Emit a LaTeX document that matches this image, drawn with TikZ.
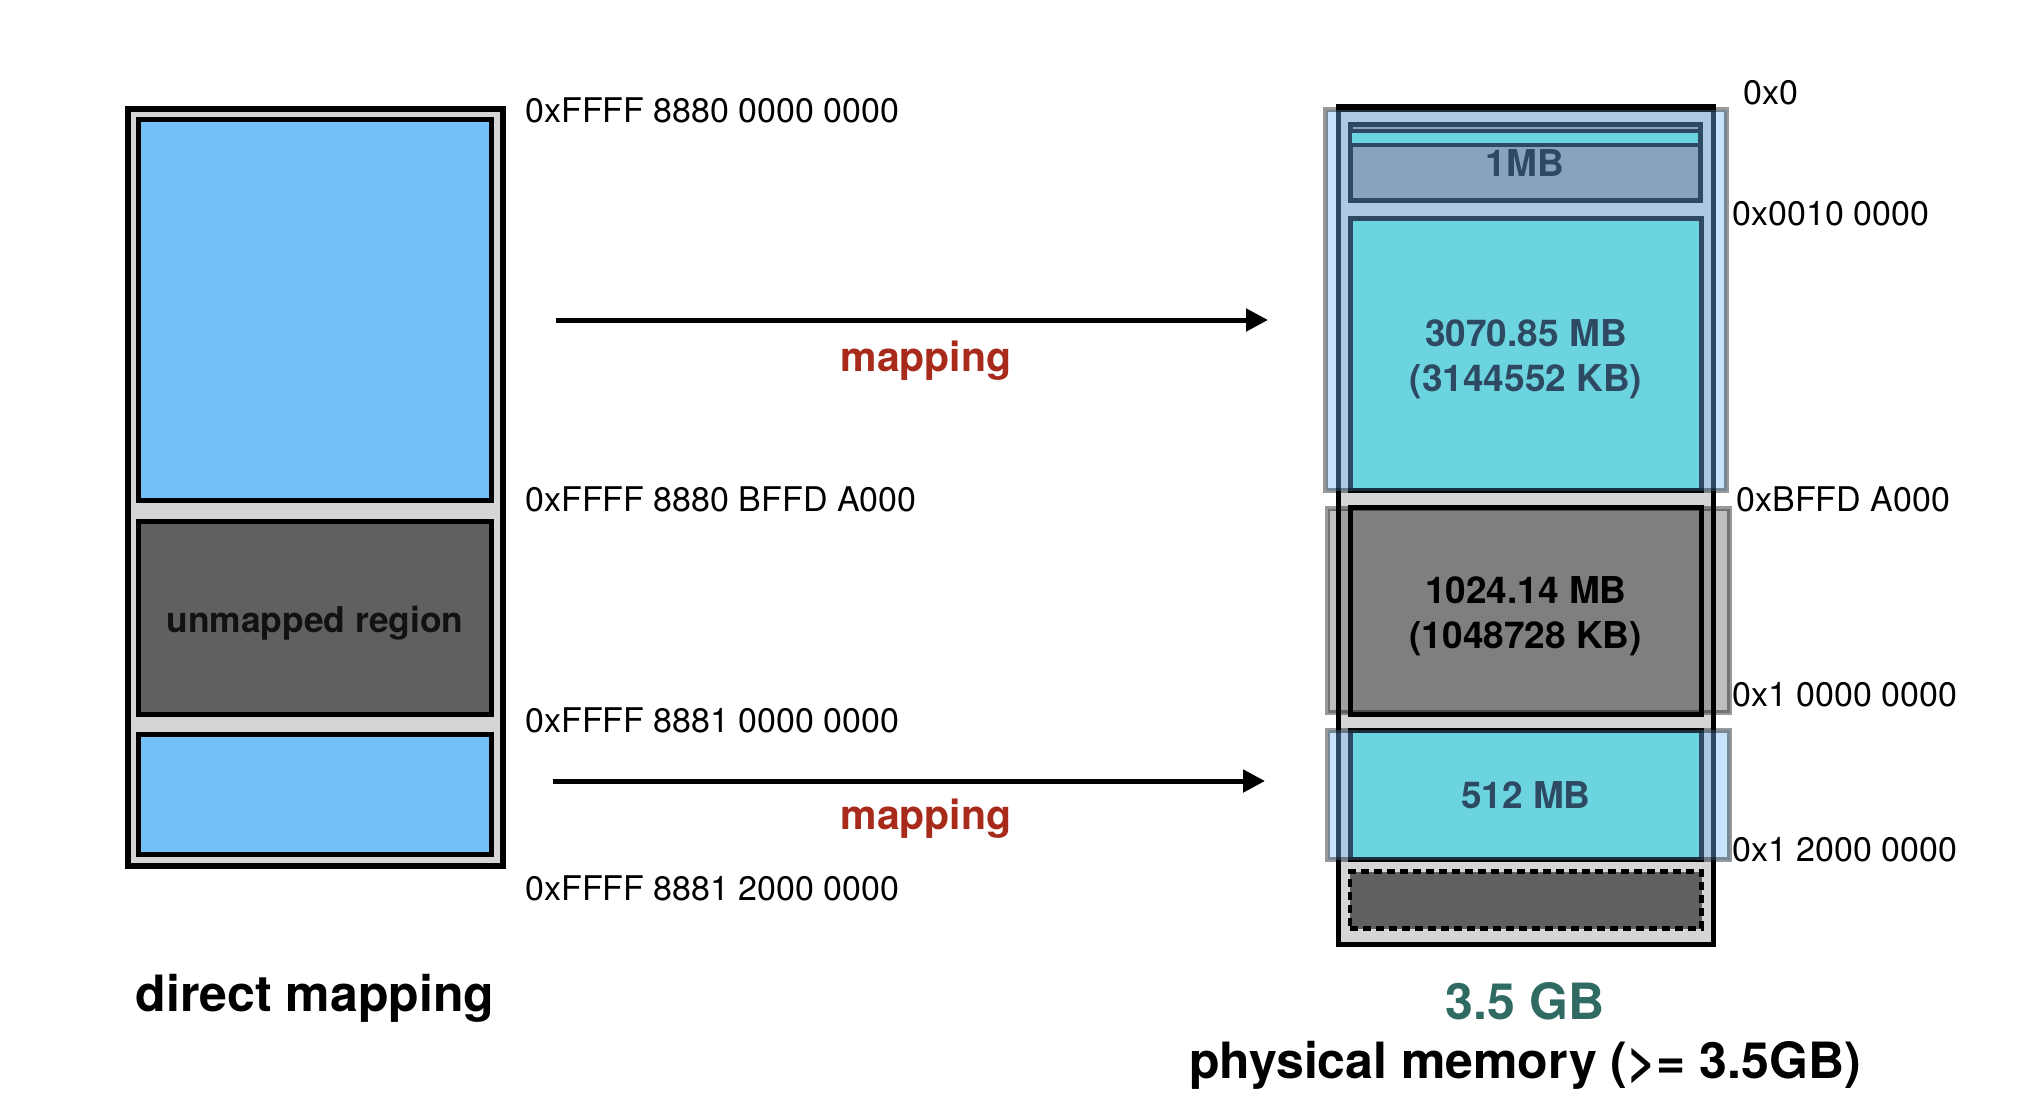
\documentclass[tikz,border=0pt]{standalone}
\usepackage{fontspec}
\setmainfont{TeX Gyre Heros}
\usetikzlibrary{arrows.meta,fit}
\definecolor{lblue}{HTML}{73BFF8}
\definecolor{dgray}{HTML}{606060}
\definecolor{lgray}{HTML}{D5D5D5}
\definecolor{ovblue}{HTML}{75B9F7}
\definecolor{mgraya}{HTML}{969696}
\definecolor{mgrayb}{HTML}{AAAAAA}
\definecolor{cyanfill}{HTML}{67E6D0}
\definecolor{mapred}{HTML}{A82A1A}
\definecolor{gbteal}{HTML}{2F6B63}
\begin{document}
\begin{tikzpicture}[x=0.5pt,y=-0.5pt,
  box/.style={draw=black, line width=2.5pt, inner sep=0pt},
  outerbox/.style={draw=black, line width=2.8pt, inner sep=0pt},
  ovb/.style={draw=black, draw opacity=0.4, line width=2.5pt, fill=ovblue, fill opacity=0.4, inner sep=0pt},
  ovg/.style={draw=black, draw opacity=0.4, line width=2.5pt, fill=black, fill opacity=0.25, inner sep=0pt},
  addr/.style={inner sep=0pt, anchor=west, font=\fontsize{17}{20}\selectfont},
  inbold/.style={inner sep=0pt, align=center, font=\bfseries\fontsize{18.5}{22.5}\selectfont},
  maplabel/.style={inner sep=0pt, anchor=base, text=mapred, font=\bfseries\fontsize{20.5}{24}\selectfont},
  titletext/.style={inner sep=0pt, anchor=base, font=\bfseries\fontsize{25}{30}\selectfont},
  arrowline/.style={line width=2.5pt, -{Triangle[length=11pt,width=11pt]}}
]
\useasboundingbox (0,0) rectangle (2022,1114);

% left column
\node[outerbox, fill=lgray, fit={(128,109)(503,866)}] (leftcol) {};
\node[box, fill=lblue, fit={(138.5,119.5)(491.5,500.5)}] (lmapa) {};
\node[box, fill=dgray, fit={(138.5,521.5)(491.5,714.5)}] (lunmap) {};
\node[box, fill=lblue, fit={(138.5,734.5)(491.5,854.5)}] (lmapb) {};
\node[inbold, text=black!93, font=\bfseries\fontsize{17.7}{21}\selectfont] (tunmap) at ([yshift=-2.5pt]lunmap.center) {unmapped region};

% right column
\node[box, fill=lgray, fit={(1338.5,109)(1713.5,944.5)}] (rightcol) {};
\node[box, fill=mgraya, fit={(1350,124.5)(1700,200.5)}] (ronemb) {};
\node[box, line width=2pt, fill=cyanfill, fit={(1350,130.5)(1700,144.5)}] (rlow) {};
\node[inbold] (tonemb) at (1525,163) {1MB};
\node[box, fill=cyanfill, fit={(1350.5,218)(1701.5,490.5)}] (rbig) {};
\node[inbold] (tbig) at ([yshift=-2.5pt]rbig.center) {3070.85 MB\\(3144552 KB)};
\node[box, fill=mgrayb, fit={(1350.5,507.5)(1701,714)}] (rhole) {};
\node[inbold] (thole) at ([yshift=-2.5pt]rhole.center) {1024.14 MB\\(1048728 KB)};
\node[box, fill=cyanfill, fit={(1350.5,730.5)(1701,859)}] (rhigh) {};
\node[inbold] (thigh) at (rhigh.center) {512 MB};
\node[box, line width=2.3pt, dash pattern=on 4pt off 2.5pt, fill=dgray, fit={(1350,871.5)(1701.5,928.5)}] (rrest) {};

% overlays
\node[ovb, fit={(1325.5,109.5)(1726.5,490.5)}] (ova) {};
\node[ovg, fit={(1327.5,508.5)(1729.5,712.5)}] (ovc) {};
\node[ovb, fit={(1327.5,730)(1729.5,859.5)}] (ovd) {};
\draw[line width=2.5pt] (rightcol.north west) -- (rightcol.north east);

% arrows
\coordinate (aas) at (556,320);
\coordinate (aae) at (1268,320);
\coordinate (abs) at (553,781);
\coordinate (abe) at (1265,781);
\draw[arrowline] (aas) -- (aae);
\draw[arrowline] (abs) -- (abe);
\node[maplabel] (mapa) at (926,371) {mapping};
\node[maplabel] (mapb) at (926,829) {mapping};

% left addresses
\node[addr] (ada) at (525,110) {0xFFFF 8880 0000 0000};
\node[addr] (adb) at (525,499) {0xFFFF 8880 BFFD A000};
\node[addr] (adc) at (525,720) {0xFFFF 8881 0000 0000};
\node[addr] (add) at (525,888) {0xFFFF 8881 2000 0000};

% right addresses
\node[addr] (pha) at (1743,93) {0x0};
\node[addr] (phb) at (1732,214) {0x0010 0000};
\node[addr] (phc) at (1736,499) {0xBFFD A000};
\node[addr] (phd) at (1732,695) {0x1 0000 0000};
\node[addr] (phe) at (1732,850) {0x1 2000 0000};

% titles
\node[titletext] (tdirect) at (315,1011) {direct mapping};
\node[titletext, text=gbteal] (tsize) at (1525,1019) {3.5 GB};
\node[titletext] (tphys) at (1525,1078) {physical memory (>= 3.5GB)};
\end{tikzpicture}
\end{document}
